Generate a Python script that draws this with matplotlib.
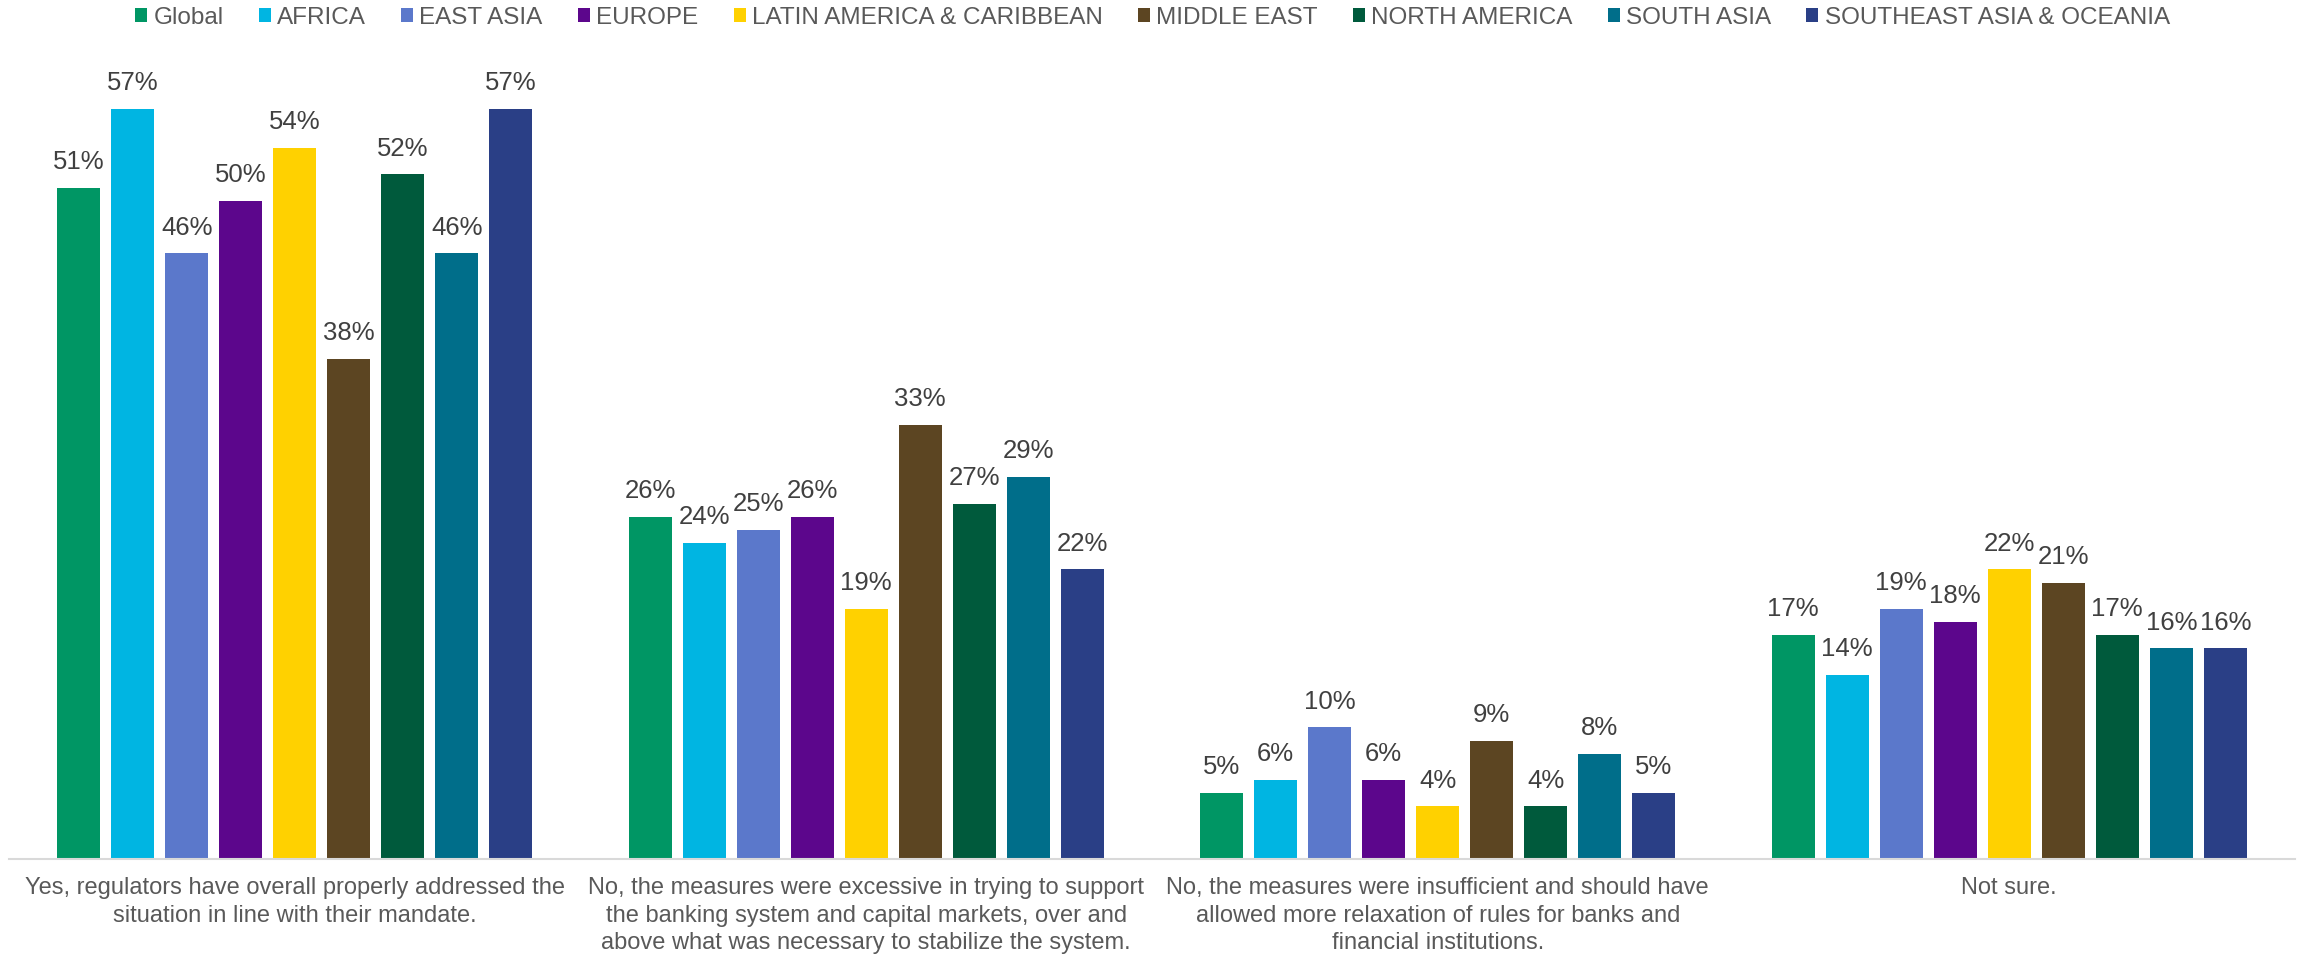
import numpy as np
import matplotlib
matplotlib.use("Agg")
import matplotlib.pyplot as plt

plt.rcParams['font.family'] = ['Liberation Sans', 'DejaVu Sans']

regions = ['Global', 'AFRICA', 'EAST ASIA', 'EUROPE', 'LATIN AMERICA & CARIBBEAN',
           'MIDDLE EAST', 'NORTH AMERICA', 'SOUTH ASIA', 'SOUTHEAST ASIA & OCEANIA']
colors = ['#009664', '#00B5E2', '#5B78CB', '#5C068C', '#FFD100',
          '#5C4522', '#005A3C', '#006E8A', '#2A3F86']

answers = [
    'Yes, regulators have overall properly addressed the\nsituation in line with their mandate.',
    'No, the measures were excessive in trying to support\nthe banking system and capital markets, over and\nabove what was necessary to stabilize the system.',
    'No, the measures were insufficient and should have\nallowed more relaxation of rules for banks and\nfinancial institutions.',
    'Not sure.',
]

# percent per region, one list per answer
yes_addressed = [51, 57, 46, 50, 54, 38, 52, 46, 57]
no_excessive = [26, 24, 25, 26, 19, 33, 27, 29, 22]
no_insufficient = [5, 6, 10, 6, 4, 9, 4, 8, 5]
not_sure = [17, 14, 19, 18, 22, 21, 17, 16, 16]

values = np.array([yes_addressed, no_excessive, no_insufficient, not_sure])

fig = plt.figure(figsize=(23.05, 9.58), dpi=100)
ax = fig.add_axes([9 / 2305, 99 / 958, 2286 / 2305, 790 / 958])

x = np.arange(len(answers))
pitch = 0.0945
width = 0.0752

for i, (name, col) in enumerate(zip(regions, colors)):
    pos = x + (i - 4) * pitch
    bars = ax.bar(pos, values[:, i], width, color=col, label=name, zorder=2)
    for b, v in zip(bars, values[:, i]):
        ax.annotate(f'{v}%', (b.get_x() + b.get_width() / 2, v),
                    xytext=(0, 13.5), textcoords='offset points',
                    ha='center', va='baseline', fontsize=18.5, color='#404040',
                    annotation_clip=False)

ax.set_xlim(-0.5, 3.5)
ax.set_ylim(0, 60)
ax.set_yticks([])
for s in ['top', 'right', 'left']:
    ax.spines[s].set_visible(False)
ax.spines['bottom'].set_color('#d9d9d9')
ax.spines['bottom'].set_linewidth(1.5)

ax.set_xticks(x)
ax.set_xticklabels(answers, fontsize=17, color='#595959', linespacing=1.33)
ax.tick_params(axis='x', length=0, pad=13)

fig.legend(loc='center', bbox_to_anchor=(0.5, 1 - 18 / 958), ncol=9, frameon=False,
           fontsize=17.5, handlelength=0.5, handleheight=0.5, handletextpad=0.25,
           columnspacing=1.45, labelcolor='#595959', borderaxespad=0)

fig.savefig('out.png', dpi=100)
